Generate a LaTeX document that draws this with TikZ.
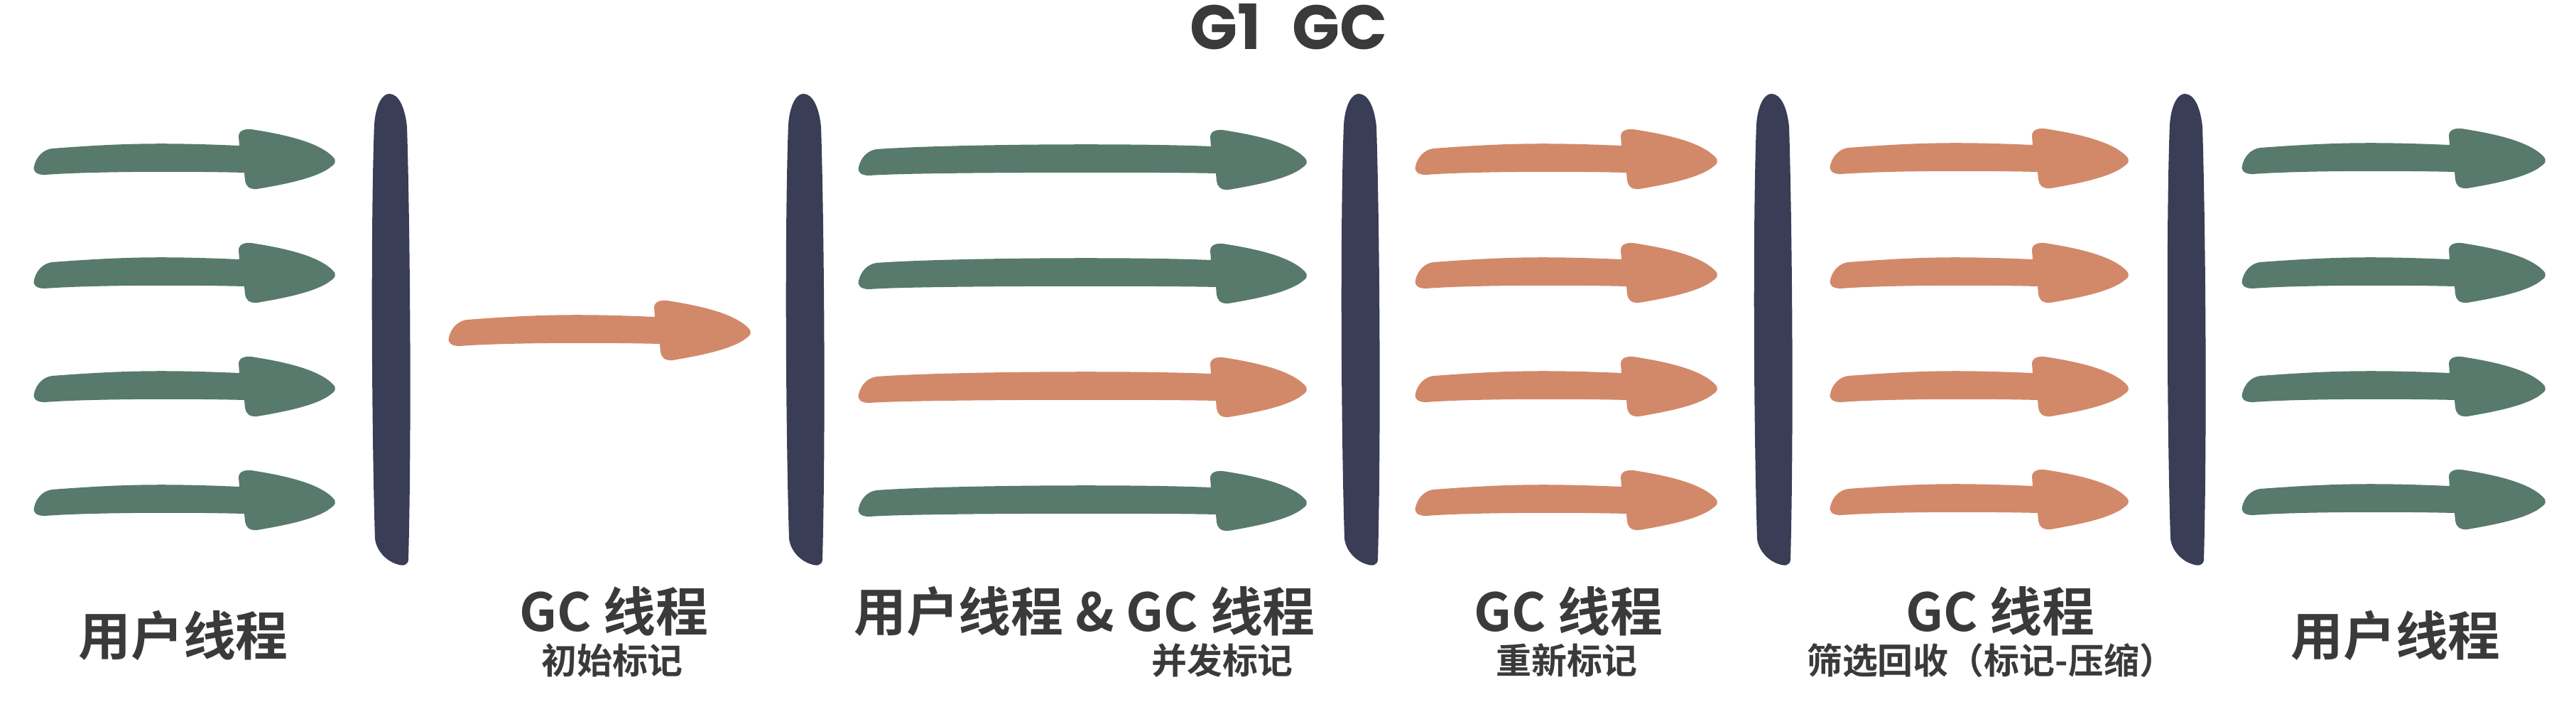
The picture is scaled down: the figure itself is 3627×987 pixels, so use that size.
\documentclass[tikz,border=0pt]{standalone}
\usepackage{fontspec}
\newfontfamily\cjk{Noto Sans CJK SC}[BoldFont={Noto Sans CJK SC Bold}]
\newfontfamily\titlefont{Poppins}[BoldFont={Poppins Bold}]

\definecolor{userclr}{HTML}{577A6C}
\definecolor{gcclr}{HTML}{D2896A}
\definecolor{stwclr}{HTML}{393D56}
\definecolor{txtclr}{HTML}{3A3A3A}

\tikzset{
    biglabel/.style={text=txtclr, inner sep=0pt, anchor=base, font=\cjk\bfseries\fontsize{21}{25}\selectfont},
    smalllabel/.style={text=txtclr, inner sep=0pt, anchor=base, font=\cjk\bfseries\fontsize{14.2}{17}\selectfont},
}

% colour, start x, tip x, y
\newcommand{\threadarrow}[4]{%
    \fill[#1, shift={(#3,#4)}] (-135,-21) -- (-136,-34) .. controls (-136,-42) and (-128,-45) .. (-118,-44)
        .. controls (-80,-38) and (-25,-28) .. (-3,-5) .. controls (2,0) and (0,5) .. (-5,8)
        .. controls (-25,25) and (-75,34) .. (-110,40) .. controls (-122,41) and (-126,35) .. (-127,28) -- (-128,17)
        .. controls (-200,15) and ({#2-#3+80},15) .. ({#2-#3+15},20) .. controls ({#2-#3+3},20) and ({#2-#3-2},15) .. ({#2-#3},8)
        .. controls ({#2-#3+3},-5) and ({#2-#3+12},-15) .. ({#2-#3+25},-17) .. controls ({#2-#3+120},-24) and (-250,-26) .. (-135,-21) -- cycle;}

% centre x
\newcommand{\stwbar}[1]{%
    \fill[stwclr, shift={(#1,0)}] (-24,175) .. controls (-22,148) and (-13,132) .. (-3,132) .. controls (10,132) and (19,150) .. (22,178)
        .. controls (26,300) and (29,600) .. (24,788) .. controls (23,796) and (16,797) .. (8,794)
        .. controls (-6,790) and (-21,776) .. (-23,758) .. controls (-28,600) and (-29,300) .. (-24,175) -- cycle;}

\begin{document}
\begin{tikzpicture}[x=0.01cm, y=-0.01cm]
        \useasboundingbox (0,0) rectangle (3627,987);

        \node (title) [text=txtclr, inner sep=0pt, font=\titlefont\bfseries\fontsize{25}{30}\selectfont] at (1814,38) {G1\enspace GC};

        \stwbar{551}
        \stwbar{1134}
        \stwbar{1916}
        \stwbar{2497}
        \stwbar{3079}

        \threadarrow{userclr}{48}{472}{226}
        \threadarrow{userclr}{48}{472}{386}
        \threadarrow{userclr}{48}{472}{546}
        \threadarrow{userclr}{48}{472}{706}

        \threadarrow{gcclr}{632}{1057}{467}

        \threadarrow{userclr}{1209}{1840}{227}
        \threadarrow{userclr}{1209}{1840}{387}
        \threadarrow{gcclr}{1209}{1840}{547}
        \threadarrow{userclr}{1209}{1840}{707}

        \threadarrow{gcclr}{1993}{2418}{226}
        \threadarrow{gcclr}{1993}{2418}{386}
        \threadarrow{gcclr}{1993}{2418}{546}
        \threadarrow{gcclr}{1993}{2418}{706}

        \threadarrow{gcclr}{2577}{2997}{225}
        \threadarrow{gcclr}{2577}{2997}{386}
        \threadarrow{gcclr}{2577}{2997}{546}
        \threadarrow{gcclr}{2577}{2997}{705}

        \threadarrow{userclr}{3157}{3584}{225}
        \threadarrow{userclr}{3157}{3584}{386}
        \threadarrow{userclr}{3157}{3584}{546}
        \threadarrow{userclr}{3157}{3584}{705}

        \node (user1) [biglabel] at (258,922) {用户线程};
        \node (gc1) [biglabel] at (864,888) {GC 线程};
        \node (gc1sub) [smalllabel] at (862,948) {初始标记};
        \node (mix) [biglabel] at (1527,888) {用户线程 \& GC 线程};
        \node (mixsub) [smalllabel] at (1721,948) {并发标记};
        \node (gc2) [biglabel] at (2208,888) {GC 线程};
        \node (gc2sub) [smalllabel] at (2206,948) {重新标记};
        \node (gc3) [biglabel] at (2816,888) {GC 线程};
        \node (gc3sub) [smalllabel] at (2803,948) {筛选回收（标记-压缩）};
        \node (user2) [biglabel] at (3373,922) {用户线程};
\end{tikzpicture}
\end{document}
